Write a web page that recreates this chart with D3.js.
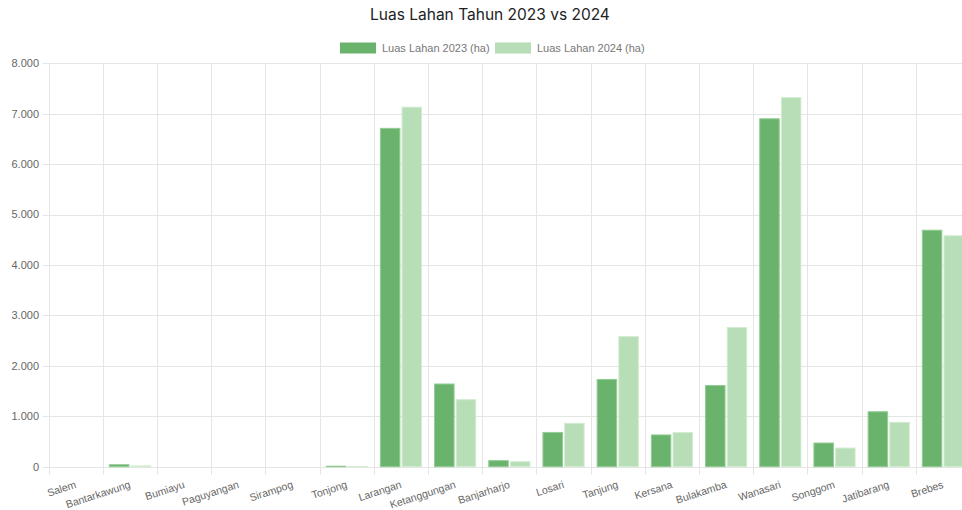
<!DOCTYPE html>
<html>
<head>
<meta charset="utf-8">
<script src="https://cdn.jsdelivr.net/npm/d3@7"></script>
<style>
  body { margin: 0; background: #fff; }
  svg { display: block; }
</style>
</head>
<body>
<svg width="962" height="510"></svg>
<script>
var kecamatan = ["Salem", "Bantarkawung", "Bumiayu", "Paguyangan", "Sirampog", "Tonjong",
    "Larangan", "Ketanggungan", "Banjarharjo", "Losari", "Tanjung", "Kersana",
    "Bulakamba", "Wanasari", "Songgom", "Jatibarang", "Brebes"];
var luas2023 = [0, 40, 0, 0, 0, 10, 6710, 1640, 120, 680, 1730, 630, 1610, 6900, 470, 1090, 4690];
var luas2024 = [0, 15, 0, 0, 0, 5, 7130, 1330, 100, 860, 2580, 680, 2760, 7320, 370, 880, 4580];
var seriesNames = ["Luas Lahan 2023 (ha)", "Luas Lahan 2024 (ha)"];
var yTicks = [0, 1000, 2000, 3000, 4000, 5000, 6000, 7000, 8000];

var svg = d3.select("svg");
var plotLeft = 48.7, plotRight = 970, plotTop = 63.3, plotBottom = 466.7;
var fillColors = ["#6ab36c", "#b8deb7"];
var strokeColors = ["#94cc95", "#d3ecd2"];

var id = d3.formatLocale({ decimal: ",", thousands: ".", grouping: [3], currency: ["Rp", ""] });
var fmt = id.format(",d");

var x = d3.scaleBand().domain(kecamatan).range([plotLeft, plotRight]);
var bw = x.bandwidth();
var xs = d3.scaleBand().domain([0, 1]).range([bw * 0.1, bw * 0.9]).paddingInner(0.1).paddingOuter(0.05);
var y = d3.scaleLinear().domain([0, 8000]).range([plotBottom, plotTop]);

// grid
var grid = svg.append("g").attr("stroke", "#e5e5e5").attr("stroke-width", 1);
grid.selectAll(".h").data(yTicks).enter().append("line")
    .attr("x1", plotLeft - 6).attr("x2", plotRight)
    .attr("y1", function (d) { return Math.round(y(d)) + 0.5; })
    .attr("y2", function (d) { return Math.round(y(d)) + 0.5; });
grid.selectAll(".v").data(kecamatan).enter().append("line")
    .attr("x1", function (d) { return Math.round(x(d)) + 0.5; })
    .attr("x2", function (d) { return Math.round(x(d)) + 0.5; })
    .attr("y1", plotTop).attr("y2", plotBottom + 8);

// y labels
svg.append("g").selectAll("text").data(yTicks).enter().append("text")
    .attr("x", 39).attr("y", function (d) { return y(d); })
    .attr("dy", "0.35em")
    .attr("text-anchor", "end")
    .attr("font-family", "Liberation Sans, Arial, sans-serif")
    .attr("font-size", 11).attr("fill", "#666")
    .text(function (d) { return fmt(d); });

// x labels
svg.append("g").selectAll("text").data(kecamatan).enter().append("text")
    .attr("transform", function (d) { return "translate(" + (x(d) + bw / 2) + "," + 484 + ") rotate(-18)"; })
    .attr("dy", "0.35em")
    .attr("text-anchor", "end")
    .attr("font-family", "Liberation Sans, Arial, sans-serif")
    .attr("font-size", 10.5).attr("fill", "#666")
    .text(function (d) { return d; });

// bars
[luas2023, luas2024].forEach(function (vals, s) {
    svg.append("g").selectAll("rect").data(vals).enter().append("rect")
        .attr("x", function (d, i) { return x(kecamatan[i]) + xs(s); })
        .attr("width", xs.bandwidth())
        .attr("y", function (d) { return y(d); })
        .attr("height", function (d) { return plotBottom - y(d); })
        .attr("fill", fillColors[s])
        .attr("stroke", function (d) { return d > 0 ? strokeColors[s] : "none"; })
        .attr("stroke-width", 1);
});

// title
svg.append("text")
    .attr("x", 490).attr("y", 20)
    .attr("text-anchor", "middle")
    .attr("font-family", "Inter, Open Sans, sans-serif")
    .attr("font-size", 15.5).attr("fill", "#222")
    .text("Luas Lahan Tahun 2023 vs 2024");

// legend
var legendX = [340, 495];
var lg = svg.append("g").selectAll("g").data(seriesNames).enter().append("g")
    .attr("transform", function (d, i) { return "translate(" + legendX[i] + ",42.5)"; });
lg.append("rect").attr("width", 36).attr("height", 11)
    .attr("fill", function (d, i) { return fillColors[i]; });
lg.append("text").attr("x", 42).attr("y", 5.5).attr("dy", "0.35em")
    .attr("font-family", "Liberation Sans, Arial, sans-serif")
    .attr("font-size", 11).attr("fill", "#777")
    .text(function (d) { return d; });
</script>
</body>
</html>
